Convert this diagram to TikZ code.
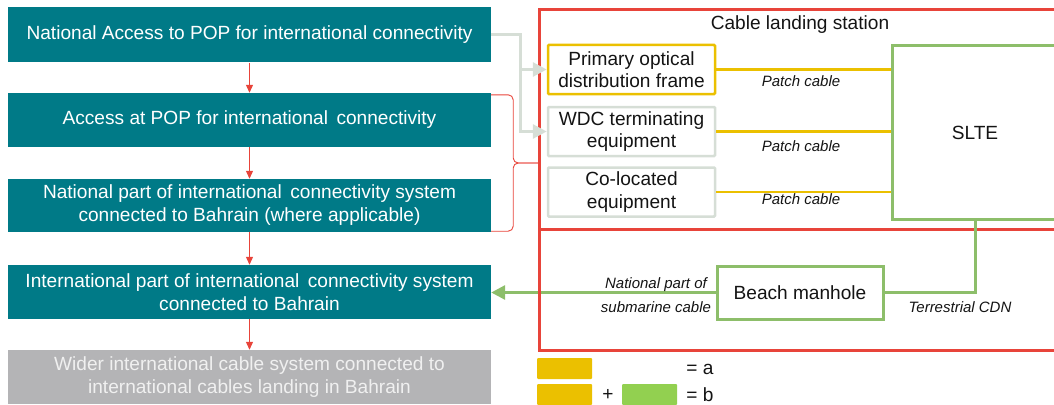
\documentclass[tikz,border=0pt]{standalone}
\usepackage{fontspec}
\setmainfont{Liberation Sans}
\usetikzlibrary{arrows.meta,calc}

\definecolor{boxteal}{RGB}{0,122,135}
\definecolor{stagegray}{RGB}{180,180,182}
\definecolor{stagegraytext}{RGB}{240,240,240}
\definecolor{framered}{RGB}{232,68,58}
\definecolor{cableyellow}{RGB}{235,192,0}
\definecolor{cdngreen}{RGB}{141,190,106}
\definecolor{keygreen}{RGB}{146,208,80}
\definecolor{feedgray}{RGB}{214,222,214}
\definecolor{ink}{RGB}{20,20,20}

\begin{document}
\begin{tikzpicture}[x=1pt,y=-1pt,
  stage/.style={fill=boxteal, text=white, minimum width=483pt, minimum height=54pt,
    inner sep=0pt, align=center, font=\fontsize{19.1}{23}\selectfont},
  equip/.style={draw=feedgray, line width=2.5pt, fill=white, rounded corners=1pt,
    minimum width=167pt, minimum height=49pt, inner sep=0pt, align=center,
    text=ink, font=\fontsize{19.1}{22.5}\selectfont},
  site/.style={draw=framered, line width=3pt, inner sep=0pt, anchor=north west},
  flow/.style={draw=framered, line width=1.1pt, -{Triangle[length=8pt,width=7pt]}},
  feed/.style={draw=feedgray, line width=3pt, -{Triangle[length=14pt,width=14pt]}},
  patch/.style={draw=cableyellow, line width=2.5pt},
  cdn/.style={draw=cdngreen, line width=3pt},
  lbl/.style={text=ink, inner sep=0pt, align=center,
    font=\fontsize{15}{24}\selectfont\itshape},
  plain/.style={text=ink, inner sep=0pt, font=\fontsize{19.1}{23}\selectfont},
  swatch/.style={rounded corners=1pt, minimum width=55pt, minimum height=21pt, inner sep=0pt},
  brace/.style={draw=framered, line width=0.9pt, rounded corners=5pt}
]
\useasboundingbox (0,0) rectangle (1054,404);
\clip (0,0) rectangle (1054,404);

% left-hand chain of stages
\node[stage, minimum height=55pt] (s1) at (249.5,35) {National Access to POP for international connectivity};
\node[stage] (s2) at (249.5,120) {Access at POP for international\, connectivity};
\node[stage, minimum height=53pt] (s3) at (249.5,205.5) {National part of international\, connectivity system\\connected to Bahrain (where applicable)};
\node[stage] (s4) at (249.5,292) {International part of international\, connectivity system\\connected to Bahrain};
\node[stage, fill=stagegray, text=stagegraytext] (s5) at (249.5,377) {Wider international cable system connected to\\international cables landing in Bahrain};

\draw[flow] (s1.south) -- (s2.north);
\draw[flow] (s2.south) -- (s3.north);
\draw[flow] (s3.south) -- (s4.north);
\draw[flow] (s4.south) -- (s5.north);

% beach manhole and the submarine cable run back to the stages
\node[draw=cdngreen, line width=3pt, fill=white, minimum width=166pt, minimum height=53pt,
  inner sep=0pt, text=ink, font=\fontsize{19.1}{23}\selectfont] (beach) at (800,292.5) {Beach manhole};
\draw[cdn, -{Triangle[length=14pt,width=14pt]}] (beach.west) -- (beach.west -| s4.east);

% landing site frames
\node[site, minimum width=540pt, minimum height=341pt] (landsite) at (538,8) {};
\node[site, minimum width=540pt, minimum height=220pt] (station) at (538,8) {};
\node[plain] (title) at (800,25) {Cable landing station};

% equipment inside the station
\node[equip, draw=cableyellow] (pod) at (631.5,69.5) {Primary optical\\distribution frame};
\node[equip] (wdc) at (631.5,131.5) {WDC terminating\\equipment};
\node[equip] (coloc) at (631.5,192) {Co-located\\equipment};
\node[draw=cdngreen, line width=3pt, fill=white, minimum width=166pt, minimum height=173pt,
  inner sep=0pt, text=ink, font=\fontsize{19.1}{23}\selectfont] (slte) at (975,132.5) {SLTE};

\draw[patch] (pod.east) -- (pod.east -| slte.west);
\draw[patch] (wdc.east) -- (wdc.east -| slte.west);
\draw[patch] (coloc.east) -- (coloc.east -| slte.west);
\node[lbl] (pc1) at (801,81) {Patch cable};
\node[lbl] (pc2) at (801,146) {Patch cable};
\node[lbl] (pc3) at (801,199) {Patch cable};

% terrestrial link from the SLTE to the beach manhole
\draw[cdn] (slte.south) |- (beach.east);
\node[lbl] (natpart) at (656,295) {National part of\\submarine cable};
\node[lbl] (terr) at (960,307) {Terrestrial CDN};

% access feeds from the national POP
\draw[feed] (s1.east) -- ++(29,0) coordinate (split) |- (pod.west);
\draw[feed] (split) |- (wdc.west);

% brace grouping the POP stages with the station
\coordinate (tip) at (538,163);
\draw[brace] ([yshift=-2pt]s2.north east) -- ++(22,0) |- (tip);
\draw[brace] ([yshift=1pt]s3.south east) -- ++(22,0) |- (tip);

% key
\node[swatch, fill=cableyellow] (keya) at (564.5,368.5) {};
\node[plain] (eqa) at (700,369) {= a};
\node[swatch, fill=cableyellow] (keyb) at (564.5,394.5) {};
\node[plain] (plus) at (608,395) {+};
\node[swatch, fill=keygreen] (keyc) at (649.5,394.5) {};
\node[plain] (eqb) at (700,395) {= b};
\end{tikzpicture}
\end{document}
